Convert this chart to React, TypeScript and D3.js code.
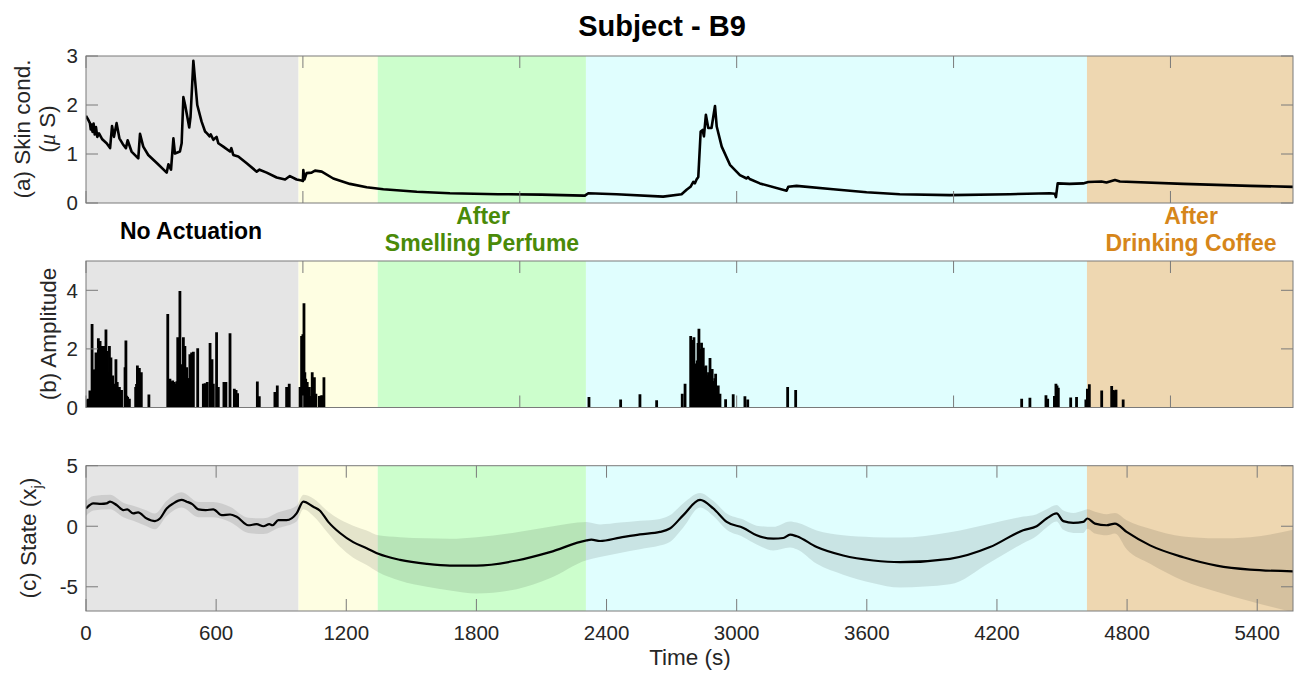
import React from 'react';
import * as d3 from 'd3';

// ---------- data ----------
const timeDomain: [number, number] = [0, 5565];

const regionStarts = [0, 980, 1345, 2305, 4615];
const regionEnds = [980, 1345, 2305, 4615, 5565];
const regionColors = ['#e5e5e5', '#fefee2', '#ccfecc', '#e0fefe', '#eed7b1'];

const xTicksAB = [0, 1000, 2000, 3000, 4000, 5000];
const xTicksC = [0, 600, 1200, 1800, 2400, 3000, 3600, 4200, 4800, 5400];
const yTicksA = [0, 1, 2, 3];
const yTicksB = [0, 2, 4];
const yTicksC = [-5, 0, 5];

// (a) skin conductance [time s, µS]
const skinConductance: [number, number][] = [
  [0, 1.78], [10, 1.7], [18, 1.63], [22, 1.5], [26, 1.6], [30, 1.45], [35, 1.62], [40, 1.4], [46, 1.55], [52, 1.35],
  [60, 1.42], [75, 1.3], [95, 1.22], [111, 1.12], [120, 1.57], [129, 1.35], [141, 1.63], [154, 1.32], [170, 1.2],
  [184, 1.12], [192, 1.28], [210, 1.05], [241, 0.91], [249, 1.41], [264, 1.15], [287, 0.98], [330, 0.8], [372, 0.62],
  [380, 0.79], [392, 0.68], [403, 1.32], [410, 1.01], [433, 1.05], [441, 1.22], [449, 2.16], [457, 2.0], [467, 1.76],
  [476, 1.54], [482, 1.76], [495, 2.9], [503, 2.5], [513, 2.0], [533, 1.66], [549, 1.46], [558, 1.42], [564, 1.39],
  [570, 1.36], [575, 1.4], [587, 1.29], [602, 1.35], [610, 1.22], [633, 1.15], [664, 1.05], [670, 1.12], [679, 0.98],
  [702, 0.95], [741, 0.81], [787, 0.64], [800, 0.68], [833, 0.62], [879, 0.52], [918, 0.48], [940, 0.55], [971, 0.48],
  [994, 0.46], [1000, 0.45], [1002, 0.67], [1007, 0.48], [1017, 0.61], [1040, 0.62], [1056, 0.66], [1087, 0.64],
  [1140, 0.5], [1217, 0.39], [1294, 0.32], [1371, 0.28], [1525, 0.23], [1678, 0.2], [1900, 0.18], [2100, 0.17],
  [2293, 0.15], [2300, 0.15], [2316, 0.2], [2446, 0.18], [2661, 0.13], [2746, 0.18], [2769, 0.27], [2787, 0.33],
  [2800, 0.43], [2807, 0.4], [2815, 0.48], [2823, 0.53], [2834, 1.46], [2843, 1.49], [2849, 1.36], [2858, 1.8],
  [2869, 1.53], [2884, 1.53], [2900, 1.98], [2908, 1.56], [2931, 1.15], [2969, 0.78], [3015, 0.57], [3046, 0.5],
  [3052, 0.53], [3060, 0.49], [3107, 0.4], [3230, 0.25], [3238, 0.33], [3276, 0.35], [3445, 0.28], [3599, 0.22],
  [3752, 0.18], [3983, 0.16], [4260, 0.18], [4444, 0.2], [4467, 0.19], [4472, 0.12], [4480, 0.4], [4535, 0.39],
  [4597, 0.4], [4621, 0.43], [4682, 0.44], [4705, 0.42], [4744, 0.47], [4767, 0.44], [5059, 0.39], [5367, 0.35],
  [5565, 0.33],
];

// (b) amplitude events [time s, amplitude]
const amplitudes: [number, number][] = [
  [3, 0.27], [10, 0.3], [18, 0.58], [23, 0.5], [28, 2.85], [33, 1.3], [37, 1.26], [42, 1.3], [46, 1.88], [52, 1.2],
  [57, 2.36], [61, 1.1], [65, 2.27], [70, 1.0], [74, 2.1], [79, 1.0], [83, 2.1], [88, 0.9], [92, 2.66], [98, 1.93],
  [103, 1.2], [108, 2.1], [112, 1.0], [115, 1.71], [119, 1.0], [123, 1.09], [127, 0.8], [131, 0.81], [135, 0.7],
  [138, 1.65], [144, 0.87], [149, 0.7], [154, 0.7], [159, 0.6], [164, 0.6], [180, 1.37], [184, 2.29], [188, 0.4],
  [192, 0.36], [200, 0.3], [229, 0.7], [233, 0.8], [237, 1.43], [242, 1.2], [246, 1.35], [251, 1.1], [255, 1.2],
  [290, 0.44], [377, 3.19], [382, 0.95], [387, 0.98], [393, 0.9], [400, 0.92], [407, 0.87], [411, 0.8], [415, 0.81],
  [419, 0.9], [423, 2.4], [428, 1.0], [433, 3.98], [437, 1.2], [441, 1.48], [445, 1.2], [449, 2.4], [452, 1.3],
  [456, 2.1], [460, 1.1], [464, 1.37], [468, 1.0], [472, 0.87], [476, 1.0], [479, 1.82], [483, 1.0], [487, 1.88],
  [491, 1.0], [495, 1.9], [515, 2.02], [541, 0.81], [545, 0.75], [549, 0.83], [559, 0.87], [572, 2.2], [576, 1.2],
  [581, 1.65], [587, 0.81], [602, 2.57], [610, 0.7], [636, 0.87], [645, 0.87], [664, 2.53], [684, 0.64], [688, 0.6],
  [692, 0.6], [699, 0.49], [790, 0.89], [799, 0.38], [871, 0.53], [882, 0.75], [925, 0.7], [937, 0.81], [987, 0.7],
  [994, 2.44], [1000, 2.5], [1005, 3.56], [1009, 1.2], [1013, 0.98], [1020, 0.87], [1025, 0.7], [1030, 0.7],
  [1037, 0.39], [1043, 1.2], [1048, 1.0], [1053, 1.03], [1060, 0.47], [1076, 0.39], [1082, 0.4], [1087, 0.42],
  [1097, 1.03],
  [2319, 0.36], [2465, 0.27], [2554, 0.45], [2631, 0.25], [2749, 0.47], [2762, 0.81], [2788, 2.44], [2792, 2.0],
  [2795, 2.3], [2799, 1.8], [2803, 2.4], [2808, 1.5], [2812, 0.7], [2818, 1.6], [2822, 2.2], [2826, 2.69],
  [2829, 2.0], [2832, 1.9], [2838, 2.21], [2842, 1.5], [2846, 2.04], [2849, 1.4], [2852, 1.2], [2858, 1.43],
  [2862, 1.1], [2866, 1.0], [2870, 1.2], [2877, 1.69], [2882, 1.0], [2887, 1.31], [2891, 0.9], [2895, 0.9],
  [2899, 1.0], [2903, 1.15], [2907, 0.7], [2910, 0.6], [2915, 0.75], [2923, 0.47], [2949, 0.28], [2984, 0.45],
  [3038, 0.38], [3051, 0.27], [3235, 0.7], [3272, 0.6],
  [4314, 0.3], [4352, 0.33], [4426, 0.42], [4434, 0.3], [4465, 0.39], [4472, 0.81], [4477, 0.75], [4483, 0.67],
  [4540, 0.34], [4567, 0.36], [4610, 0.27], [4617, 0.64], [4626, 0.79], [4683, 0.58], [4729, 0.73], [4735, 0.6],
  [4740, 0.58], [4749, 0.61], [4782, 0.27],
];

// (c) state estimate [time s, x_j]
const stateLine: [number, number][] = [
  [0, 1.47], [34, 1.89], [70, 1.85], [95, 1.89], [111, 2.03], [141, 1.75], [172, 1.33], [190, 1.39], [218, 1.06],
  [240, 1.14], [280, 0.64], [318, 0.42], [341, 0.64], [372, 1.47], [403, 1.89], [441, 2.17], [464, 2.03], [490, 1.83],
  [518, 1.39], [552, 1.33], [587, 1.39], [626, 0.92], [664, 0.97], [695, 0.78], [748, 0.08], [787, 0.17], [818, 0.0],
  [845, 0.17], [860, 0.08], [887, 0.5], [925, 0.5], [971, 1.06], [1002, 2.03], [1048, 1.61], [1079, 1.28],
  [1117, 0.36], [1171, -0.56], [1232, -1.31], [1294, -1.81], [1348, -2.28], [1448, -2.78], [1571, -3.11],
  [1678, -3.25], [1801, -3.25], [1986, -2.83], [2139, -2.14], [2308, -1.17], [2330, -1.11], [2370, -1.22],
  [2462, -0.94], [2554, -0.67], [2646, -0.47], [2692, -0.19], [2754, 0.92], [2831, 2.17], [2892, 1.47], [2954, 0.36],
  [3031, -0.14], [3092, -0.75], [3169, -1.03], [3215, -0.97], [3246, -0.69], [3277, -0.83], [3369, -1.72],
  [3491, -2.42], [3630, -2.83], [3753, -2.97], [3983, -2.69], [4168, -1.72], [4321, -0.33], [4383, 0.0], [4429, 0.64],
  [4475, 1.06], [4506, 0.42], [4552, 0.28], [4598, 0.36], [4617, 0.64], [4652, 0.22], [4706, 0.08], [4744, 0.22],
  [4798, -0.47], [4906, -1.58], [5059, -2.56], [5213, -3.25], [5367, -3.58], [5565, -3.72],
];

// (c) uncertainty band [time s, lower, upper]
const stateBand: [number, number, number][] = [
  [0, 0.85, 2.1], [34, 1.3, 2.5], [111, 1.4, 2.6], [172, 0.75, 1.95], [218, 0.45, 1.7], [280, 0.0, 1.3],
  [318, -0.25, 1.05], [372, 0.85, 2.1], [441, 1.55, 2.8], [518, 0.75, 2.0], [587, 0.75, 2.0], [664, 0.35, 1.6],
  [748, -0.55, 0.7], [818, -0.65, 0.65], [887, -0.15, 1.15], [971, 0.4, 1.7], [1002, 1.4, 2.6], [1048, 0.85, 2.3],
  [1117, -0.6, 1.2], [1171, -1.7, 0.55], [1232, -2.6, 0.05], [1294, -3.2, -0.35], [1348, -3.8, -0.75],
  [1448, -4.5, -0.9], [1571, -5.0, -1.0], [1678, -5.3, -1.03], [1801, -5.55, -0.9], [1986, -5.2, -0.5],
  [2139, -4.3, -0.05], [2308, -2.8, 0.35], [2370, -2.55, 0.15], [2462, -2.2, 0.3], [2554, -1.9, 0.45],
  [2646, -1.6, 0.6], [2692, -1.3, 0.9], [2754, -0.1, 1.9], [2831, 1.55, 2.75], [2892, 0.85, 2.1], [2954, -0.3, 1.05],
  [3031, -0.9, 0.55], [3092, -1.5, 0.05], [3169, -2.0, -0.05], [3246, -1.75, 0.4], [3277, -1.9, 0.3],
  [3369, -3.1, -0.35], [3491, -4.0, -0.75], [3630, -4.7, -0.9], [3753, -5.06, -0.94], [3983, -4.8, -0.5],
  [4168, -3.0, 0.2], [4321, -1.4, 0.8], [4383, -0.8, 1.0], [4429, -0.1, 1.4], [4475, 0.4, 1.75], [4506, -0.3, 1.3],
  [4552, -0.55, 1.1], [4598, -0.55, 1.3], [4617, -0.2, 1.4], [4652, -0.6, 1.2], [4706, -0.75, 1.0],
  [4744, -0.6, 1.1], [4798, -1.9, 0.5], [4906, -3.1, -0.2], [5059, -4.5, -0.85], [5213, -5.4, -1.0],
  [5367, -6.2, -0.9], [5565, -7.1, -0.3],
];

// ---------- layout ----------
const W = 1304;
const H = 673;
const FONT = '"Liberation Sans", Arial, Helvetica, sans-serif';
const AXIS = '#7a7a7a';
const TICK_LEN = 12;
const TICK_FS = 20.5;
const LABEL_FS = 22.5;

const x = d3.scaleLinear().domain(timeDomain).range([86, 1293]);
const yA = d3.scaleLinear().domain([0, 3]).range([203, 56]);
const yB = d3.scaleLinear().domain([0, 5]).range([407.5, 261]);
const yC = d3.scaleLinear().domain([-7, 5]).range([611, 465.7]);

type Scale = d3.ScaleLinear<number, number>;

function Panel({ id, y, yTicks, xTicks, xLabels, children }: {
  id: string; y: Scale; yTicks: number[]; xTicks: number[]; xLabels: boolean; children?: React.ReactNode;
}) {
  const [x0, x1] = x.range();
  const [yb, yt] = y.range();
  return (
    <g>
      <defs>
        <clipPath id={`clip-${id}`}>
          <rect x={x0} y={yt} width={x1 - x0} height={yb - yt} />
        </clipPath>
      </defs>
      {regionStarts.map((s, i) => (
        <rect key={i} x={x(s)} y={yt} width={x(regionEnds[i]) - x(s)} height={yb - yt} fill={regionColors[i]} />
      ))}
      <g clipPath={`url(#clip-${id})`}>{children}</g>
      {xTicks.map((t) => (
        <g key={`xt${t}`} stroke={AXIS} strokeWidth={1}>
          <line x1={x(t)} x2={x(t)} y1={yb} y2={yb - TICK_LEN} />
          <line x1={x(t)} x2={x(t)} y1={yt} y2={yt + TICK_LEN} />
        </g>
      ))}
      {yTicks.map((v) => (
        <g key={`yt${v}`} stroke={AXIS} strokeWidth={1}>
          <line x1={x0} x2={x0 + TICK_LEN} y1={y(v)} y2={y(v)} />
          <line x1={x1} x2={x1 - TICK_LEN} y1={y(v)} y2={y(v)} />
        </g>
      ))}
      <rect x={x0} y={yt} width={x1 - x0} height={yb - yt} fill="none" stroke={AXIS} strokeWidth={1} />
      {yTicks.map((v) => (
        <text key={`yl${v}`} x={x0 - 8} y={y(v)} dy="0.36em" textAnchor="end" fontSize={TICK_FS} fontFamily={FONT} fill="#262626">
          {v}
        </text>
      ))}
      {xLabels && xTicks.map((t) => (
        <text key={`xl${t}`} x={x(t)} y={yb + 29} textAnchor="middle" fontSize={TICK_FS} fontFamily={FONT} fill="#262626">
          {t}
        </text>
      ))}
    </g>
  );
}

export default function App() {
  const skinPath = d3.line<[number, number]>().x((d) => x(d[0])).y((d) => yA(d[1]))(skinConductance) || '';
  const statePath = d3.line<[number, number]>().x((d) => x(d[0])).y((d) => yC(d[1])).curve(d3.curveMonotoneX)(stateLine) || '';
  const bandPath = d3.area<[number, number, number]>()
    .x((d) => x(d[0])).y0((d) => yC(d[1])).y1((d) => yC(d[2])).curve(d3.curveMonotoneX)(stateBand) || '';

  return (
    <svg width={W} height={H} viewBox={`0 0 ${W} ${H}`} style={{ position: 'absolute', left: 0, top: 0, background: '#fff' }}>
      <rect width={W} height={H} fill="#fff" />
      <text x={662} y={36} textAnchor="middle" fontSize={29} fontWeight="bold" fontFamily={FONT} fill="#000">
        Subject - B9
      </text>

      {/* (a) */}
      <Panel id="a" y={yA} yTicks={yTicksA} xTicks={xTicksAB} xLabels={false}>
        <path d={skinPath} fill="none" stroke="#000" strokeWidth={2.6} strokeLinejoin="round" />
      </Panel>
      <text transform="translate(30,129) rotate(-90)" textAnchor="middle" fontSize={LABEL_FS} fontFamily={FONT} fill="#262626">
        (a) Skin cond.
      </text>
      <text transform="translate(55,129) rotate(-90)" textAnchor="middle" fontSize={LABEL_FS} fontFamily={FONT} fill="#262626">
        (<tspan fontStyle="italic" fontFamily='"Liberation Serif", serif'>μ</tspan> S)
      </text>

      {/* (b) */}
      <Panel id="b" y={yB} yTicks={yTicksB} xTicks={xTicksAB} xLabels={false}>
        {amplitudes.map((d, i) => (
          <line key={i} x1={x(d[0])} x2={x(d[0])} y1={yB(0)} y2={yB(d[1])} stroke="#000" strokeWidth={2.8} />
        ))}
      </Panel>
      <text transform="translate(56,334) rotate(-90)" textAnchor="middle" fontSize={LABEL_FS} fontFamily={FONT} fill="#262626">
        (b) Amplitude
      </text>

      {/* (c) */}
      <Panel id="c" y={yC} yTicks={yTicksC} xTicks={xTicksC} xLabels={true}>
        <path d={bandPath} fill="#000" fillOpacity={0.1} stroke="none" />
        <path d={statePath} fill="none" stroke="#000" strokeWidth={2.2} strokeLinejoin="round" />
      </Panel>
      <text transform="translate(36,538) rotate(-90)" textAnchor="middle" fontSize={LABEL_FS} fontFamily={FONT} fill="#262626">
        (c) State (x<tspan fontSize={15} dy="6">j</tspan><tspan dy="-6">)</tspan>
      </text>
      <text x={690} y={665} textAnchor="middle" fontSize={LABEL_FS} fontFamily={FONT} fill="#262626">
        Time (s)
      </text>

      {/* annotations */}
      <text x={191} y={239} textAnchor="middle" fontSize={23} fontWeight="bold" fontFamily={FONT} fill="#000">
        No Actuation
      </text>
      <text textAnchor="middle" fontSize={23} fontWeight="bold" fontFamily={FONT} fill="#4a8a08">
        <tspan x={483} y={224}>After</tspan>
        <tspan x={482} y={251}>Smelling Perfume</tspan>
      </text>
      <text textAnchor="middle" fontSize={23} fontWeight="bold" fontFamily={FONT} fill="#d6861a">
        <tspan x={1191} y={224}>After</tspan>
        <tspan x={1191} y={251}>Drinking Coffee</tspan>
      </text>
    </svg>
  );
}
